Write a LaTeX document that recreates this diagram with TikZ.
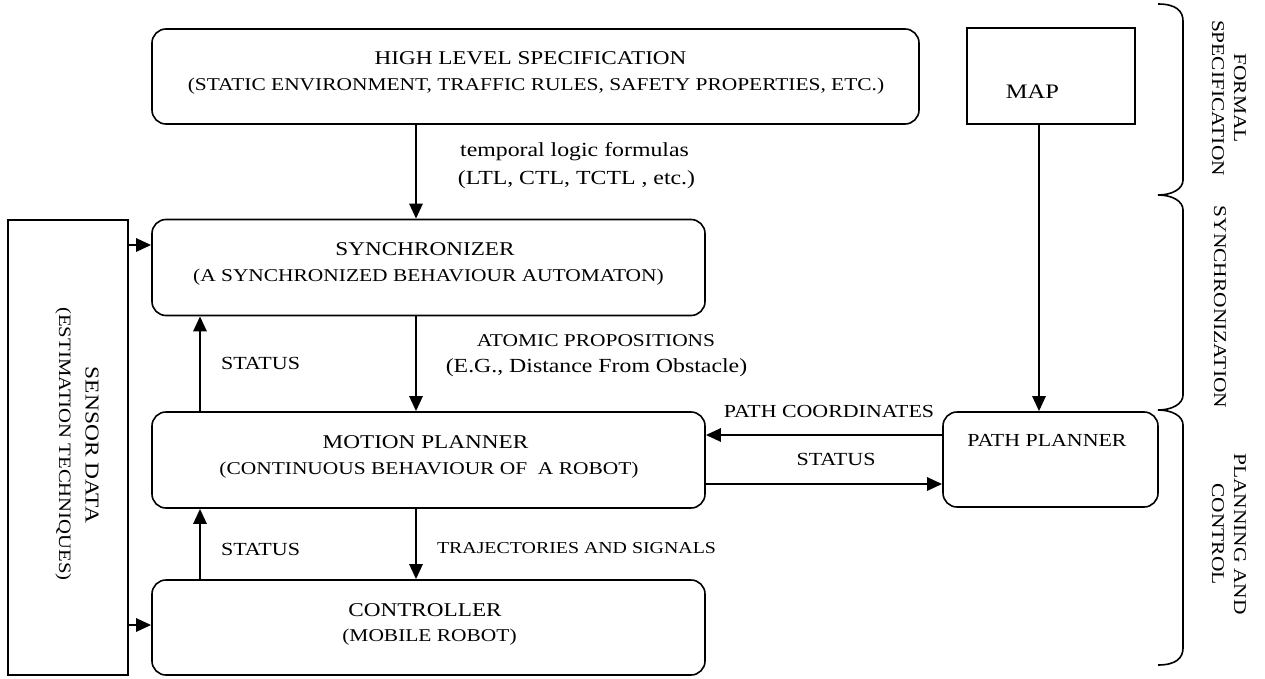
\documentclass[tikz,border=0pt]{standalone}
\usepackage{fontspec}
\setmainfont{Liberation Serif}[FakeStretch=1.19]
\usetikzlibrary{arrows.meta}
\newcommand\myfz[1]{\fontsize{#1}{#1}\selectfont}
\begin{document}
\begin{tikzpicture}[x=1pt,y=-1pt,
  box/.style={draw, line width=1.6pt, rounded corners=14pt, inner sep=0pt},
  sqbox/.style={draw, line width=1.6pt, inner sep=0pt},
  lb/.style={inner sep=0pt, anchor=base},
  side/.style={inner sep=0pt, anchor=base, rotate=-90},
  arr/.style={line width=2.7pt, -{Triangle[length=15pt,width=13pt]}},
  brace/.style={line width=1.6pt},
]
\useasboundingbox (0,0) rectangle (1265,679);
% boxes
\node[box, minimum width=767pt, minimum height=95pt] (hls) at (535.5,76.5) {};
\node[sqbox, minimum width=168pt, minimum height=96pt] (map) at (1051,76) {};
\node[box, minimum width=553pt, minimum height=96pt] (sync) at (428.5,267.5) {};
\node[box, minimum width=553pt, minimum height=96pt] (mp) at (428.5,460) {};
\node[box, minimum width=553pt, minimum height=95pt] (ctrl) at (428.5,627.5) {};
\node[box, minimum width=215pt, minimum height=95pt] (pp) at (1050.5,459.5) {};
\node[sqbox, minimum width=120pt, minimum height=455pt] (sensor) at (68,447.5) {};
% box texts
\node[lb, font=\myfz{19.5}] (hlst1) at (530.5,64.2) {HIGH LEVEL SPECIFICATION};
\node[lb, font=\myfz{18}] (hlst2) at (536,90.6) {(STATIC ENVIRONMENT, TRAFFIC RULES, SAFETY PROPERTIES, ETC.)};
\node[lb, font=\myfz{20.6}] (mapt) at (1032.5,98.8) {MAP};
\node[lb, font=\myfz{19.5}] (synct1) at (425,255.5) {SYNCHRONIZER};
\node[lb, font=\myfz{18}] (synct2) at (428.5,281.5) {(A SYNCHRONIZED BEHAVIOUR AUTOMATON)};
\node[lb, font=\myfz{19.5}] (mpt1) at (425.5,448) {MOTION PLANNER};
\node[lb, font=\myfz{18}] (mpt2) at (429,474.5) {(CONTINUOUS BEHAVIOUR OF\ \ A ROBOT)};
\node[lb, font=\myfz{19.5}] (ctrlt1) at (425,616) {CONTROLLER};
\node[lb, font=\myfz{18}] (ctrlt2) at (429.5,641.6) {(MOBILE ROBOT)};
\node[lb, font=\myfz{18.4}] (ppt) at (1047,446.1) {PATH PLANNER};
\node[side, font=\myfz{19.7}] (sensort1) at (85.5,445) {SENSOR DATA};
\node[side, font=\myfz{17.4}] (sensort2) at (59.2,444) {(ESTIMATION TECHNIQUES)};
% column coordinates
\coordinate (cA) at (416,0);
\coordinate (cB) at (200,0);
\coordinate (cM) at (1039,0);
\coordinate (rU) at (0,435);
\coordinate (rL) at (0,484);
\coordinate (rS) at (0,245);
\coordinate (rC) at (0,625);
% connectors
\draw[arr] (hls.south -| cA) -- (sync.north -| cA);
\draw[arr] (sync.south -| cA) -- (mp.north -| cA);
\draw[arr] (mp.south -| cA) -- (ctrl.north -| cA);
\draw[arr] (mp.north -| cB) -- (sync.south -| cB);
\draw[arr] (ctrl.north -| cB) -- (mp.south -| cB);
\draw[arr] (map.south -| cM) -- (pp.north -| cM);
\draw[arr] (pp.west |- rU) -- (mp.east |- rU);
\draw[arr] (mp.east |- rL) -- (pp.west |- rL);
\draw[arr] (sensor.east |- rS) -- (sync.west |- rS);
\draw[arr] (sensor.east |- rC) -- (ctrl.west |- rC);
% connector labels
\node[lb, font=\myfz{20}] (l1a) at (574.5,156.6) {temporal logic formulas};
\node[lb, font=\myfz{20}] (l1b) at (576.5,184.6) {(LTL, CTL, TCTL , etc.)};
\node[lb, font=\myfz{18}] (l2a) at (596,346) {ATOMIC PROPOSITIONS};
\node[lb, font=\myfz{20}] (l2b) at (596.5,372.6) {(E.G., Distance From Obstacle)};
\node[lb, font=\myfz{18.5}] (l3) at (260.5,369.7) {STATUS};
\node[lb, font=\myfz{18.5}] (l4) at (260.5,555.1) {STATUS};
\node[lb, font=\myfz{16.7}] (l5) at (576.5,553) {TRAJECTORIES AND SIGNALS};
\node[lb, font=\myfz{18.4}] (l6) at (829,417.1) {PATH COORDINATES};
\node[lb, font=\myfz{18.5}] (l7) at (836,465.1) {STATUS};
% braces
\draw[brace] (1158,4) .. controls (1176,4) and (1183,11) .. (1183,21) -- (1183,180)
  .. controls (1183,189) and (1172,195) .. (1158,195)
  .. controls (1172,195) and (1183,201) .. (1183,210) -- (1183,395)
  .. controls (1183,404) and (1172,410) .. (1158,410)
  .. controls (1172,410) and (1183,416) .. (1183,425) -- (1183,648)
  .. controls (1183,658) and (1176,665) .. (1158,665);
\node[side, font=\myfz{18}] (fs1) at (1234,98) {FORMAL};
\node[side, font=\myfz{18}] (fs2) at (1212,98) {SPECIFICATION};
\node[side, font=\myfz{18}] (sy) at (1214,307) {SYNCHRONIZATION};
\node[side, font=\myfz{18}] (pc1) at (1234,534) {PLANNING AND};
\node[side, font=\myfz{18}] (pc2) at (1212,534) {CONTROL};
\end{tikzpicture}
\end{document}
